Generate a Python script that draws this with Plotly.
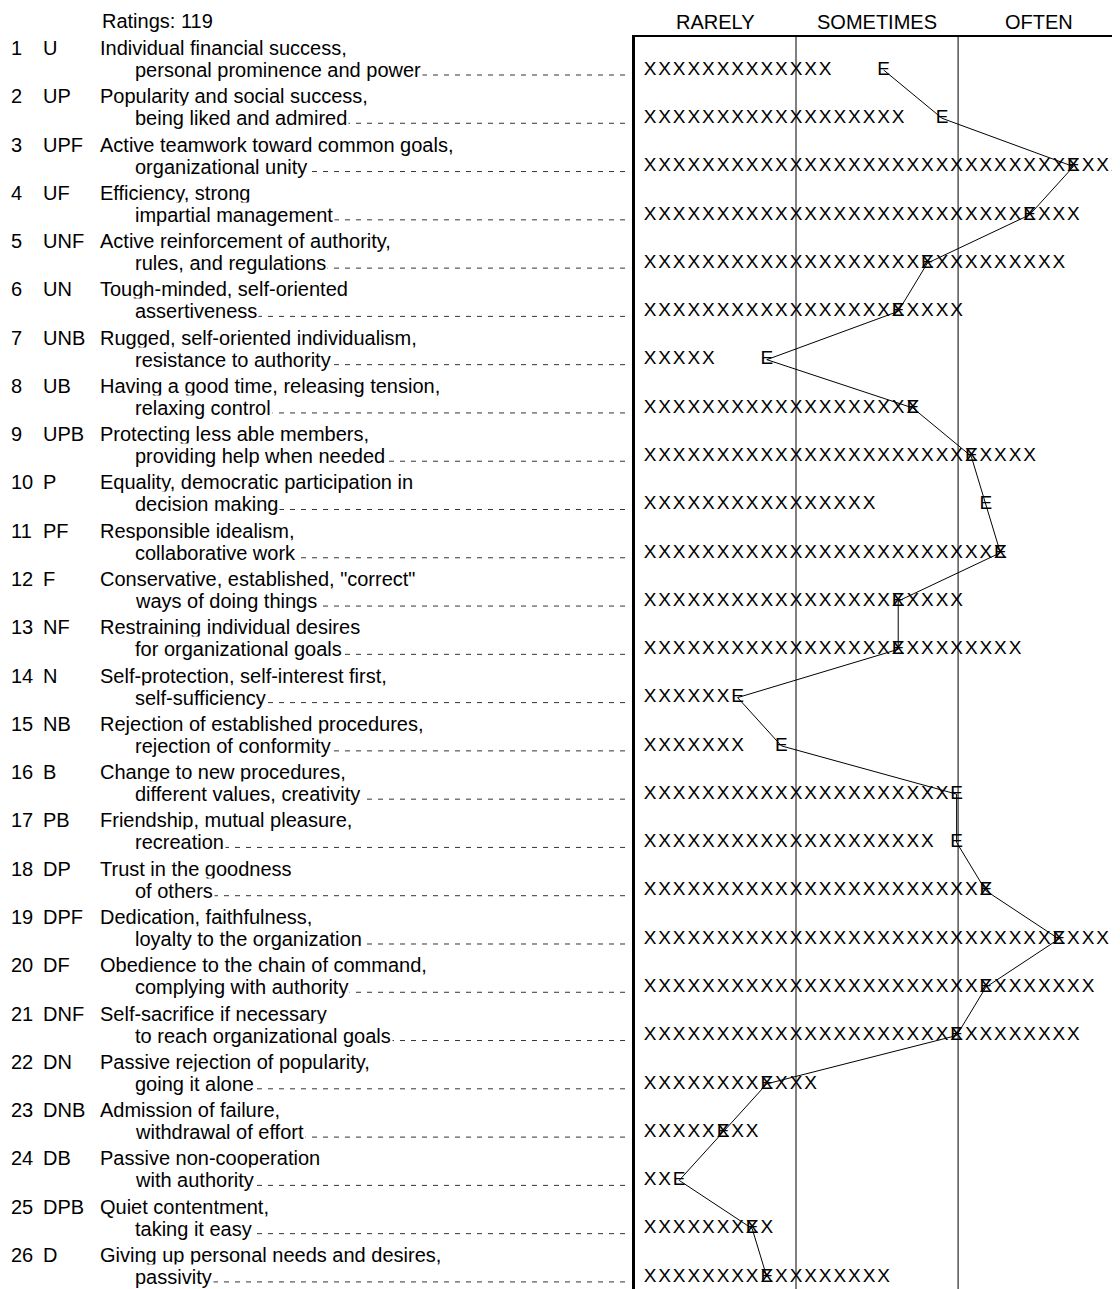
import plotly.graph_objects as go

# SYMLOG value items, ratings bar graph
n_ratings = 119
item_no = list(range(1, 27))
codes = ["U", "UP", "UPF", "UF", "UNF", "UN", "UNB", "UB", "UPB", "P", "PF", "F", "NF",
         "N", "NB", "B", "PB", "DP", "DPF", "DF", "DNF", "DN", "DNB", "DB", "DPB", "D"]
desc_1 = ["Individual financial success,",
          "Popularity and social success,",
          "Active teamwork toward common goals,",
          "Efficiency, strong",
          "Active reinforcement of authority,",
          "Tough-minded, self-oriented",
          "Rugged, self-oriented individualism,",
          "Having a good time, releasing tension,",
          "Protecting less able members,",
          "Equality, democratic participation in",
          "Responsible idealism,",
          'Conservative, established, "correct"',
          "Restraining individual desires",
          "Self-protection, self-interest first,",
          "Rejection of established procedures,",
          "Change to new procedures,",
          "Friendship, mutual pleasure,",
          "Trust in the goodness",
          "Dedication, faithfulness,",
          "Obedience to the chain of command,",
          "Self-sacrifice if necessary",
          "Passive rejection of popularity,",
          "Admission of failure,",
          "Passive non-cooperation",
          "Quiet contentment,",
          "Giving up personal needs and desires,"]
desc_2 = ["personal prominence and power",
          "being liked and admired",
          "organizational unity",
          "impartial management",
          "rules, and regulations",
          "assertiveness",
          "resistance to authority",
          "relaxing control",
          "providing help when needed",
          "decision making",
          "collaborative work",
          "ways of doing things",
          "for organizational goals",
          "self-sufficiency",
          "rejection of conformity",
          "different values, creativity",
          "recreation",
          "of others",
          "loyalty to the organization",
          "complying with authority",
          "to reach organizational goals",
          "going it alone",
          "withdrawal of effort",
          "with authority",
          "taking it easy",
          "passivity"]

# number of X's printed on each row (ratings) and column of the "E" (expected)
x_counts = [13, 18, 33, 30, 29, 22, 5, 19, 27, 16, 25, 22, 26, 6, 7, 21, 20, 24, 32, 31, 30, 12, 8, 2, 9, 17]
e_pos = [16, 20, 29, 26, 19, 17, 8, 18, 22, 23, 24, 17, 17, 6, 9, 21, 21, 23, 28, 23, 21, 8, 5, 2, 7, 8]

scale_labels = ["RARELY", "SOMETIMES", "OFTEN"]
scale_breaks = [10.5, 21.6]

# page has an 8px body margin, so the figure is 8px smaller than the window
W, H = 1112, 1281
FONT = "Liberation Sans, Arial, sans-serif"
xr = [-0.527, 32.69]
yr = [26.25, 0.3165]
top = 1 - 29 / H
row_px = 48.28

xs, ys = [], []
for r, n in zip(item_no, x_counts):
    for i in range(n):
        xs.append(i + 0.5)
        ys.append(r)

fig = go.Figure()
fig.add_trace(go.Scatter(x=xs, y=ys, mode="text", text=["X"] * len(xs),
                         textfont=dict(family=FONT, size=19, color="black"),
                         hoverinfo="skip"))
fig.add_trace(go.Scatter(x=[e + 0.5 for e in e_pos], y=item_no, mode="lines+text",
                         text=["E"] * len(e_pos),
                         textfont=dict(family=FONT, size=19, color="black"),
                         line=dict(color="black", width=1)))

# category dividers
for b in scale_breaks:
    fig.add_shape(type="line", xref="x", yref="paper", x0=b, x1=b, y0=0, y1=top,
                  line=dict(color="black", width=1))

# column headings
edges = [xr[0]] + scale_breaks + [xr[1]]
for k, lab in enumerate(scale_labels):
    fig.add_annotation(x=(edges[k] + edges[k + 1]) / 2, y=1 - 14 / H, xref="x", yref="paper",
                       text=lab, showarrow=False, yanchor="middle",
                       font=dict(family=FONT, size=20, color="black"))

fig.add_annotation(x=92 / W, y=1, xref="paper", yref="paper", text=f"Ratings: {n_ratings}",
                   xanchor="left", yanchor="top", showarrow=False,
                   font=dict(family=FONT, size=20, color="black"))

# item labels with dashed leaders
for r, c, d1, d2 in zip(item_no, codes, desc_1, desc_2):
    y1 = r - 22 / row_px
    fig.add_annotation(x=1 / W, y=y1, xref="paper", yref="y", text=str(r), xanchor="left",
                       showarrow=False, font=dict(family=FONT, size=20, color="black"))
    fig.add_annotation(x=33 / W, y=y1, xref="paper", yref="y", text=c, xanchor="left",
                       showarrow=False, font=dict(family=FONT, size=20, color="black"))
    fig.add_annotation(x=90 / W, y=y1, xref="paper", yref="y", text=d1, xanchor="left",
                       showarrow=False, font=dict(family=FONT, size=20, color="black"))
    fig.add_shape(type="line", xref="paper", yref="y", x0=128 / W, x1=620 / W,
                  y0=r + 5 / row_px, y1=r + 5 / row_px, layer="below",
                  line=dict(color="#333", width=1, dash="5px,6px"))
    fig.add_annotation(x=125 / W, y=r, xref="paper", yref="y", text=d2, xanchor="left",
                       showarrow=False, bgcolor="white",
                       font=dict(family=FONT, size=20, color="black"))

fig.update_xaxes(domain=[627 / W, 1], range=xr, side="top", showline=True, linewidth=2,
                 linecolor="black", showgrid=False, zeroline=False, showticklabels=False, ticks="")
fig.update_yaxes(domain=[0, top], range=yr, showline=True, linewidth=3, linecolor="black",
                 showgrid=False, zeroline=False, showticklabels=False, ticks="")
fig.update_layout(width=W, height=H, margin=dict(l=0, r=0, t=0, b=0), showlegend=False,
                  plot_bgcolor="white", paper_bgcolor="white")

fig.write_html("out.html")
